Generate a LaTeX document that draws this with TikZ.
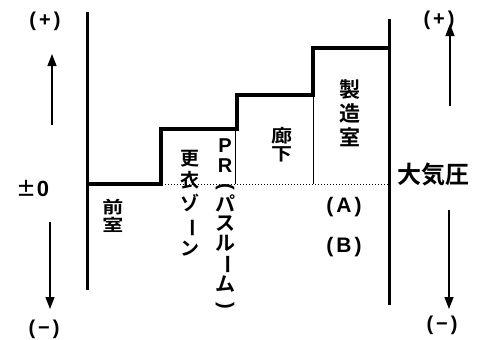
\documentclass[tikz,border=0pt]{standalone}
\usepackage{fontspec}
\usepackage{graphicx}
\setmainfont{Noto Sans CJK JP Bold}
\newfontfamily\latin{Liberation Sans}
\usetikzlibrary{arrows.meta}
\newcommand\vbar{\rotatebox[origin=c]{-90}{ー}}
\newcommand\vlp{\rotatebox[origin=c]{-90}{\latin\bfseries(}}
\newcommand\vrp{\rotatebox[origin=c]{-90}{\latin\bfseries)}}
\newcommand\gapx{\hspace{3pt}}
\tikzset{
  wall/.style={line width=3pt},
  stair/.style={line width=3.6pt, line join=miter},
  thin/.style={line width=0.8pt},
  base/.style={line width=1pt, dotted},
  lbl/.style={inner sep=0pt, align=center},
  lat/.style={font=\latin\bfseries\fontsize{21}{23}\selectfont, inner sep=0pt},
  pm/.style={font=\latin\bfseries\fontsize{20}{22}\selectfont, inner sep=0pt},
  arr/.style={line width=1.3pt, -{Triangle[length=12pt,width=9pt]}}
}
\begin{document}
\begin{tikzpicture}[x=1pt,y=-1pt]
\useasboundingbox (0,0) rectangle (483,340);
% walls
\coordinate (lwt) at (87,12);
\coordinate (lwb) at (87,290);
\coordinate (rwt) at (389,19);
\coordinate (rwb) at (389,305);
\draw[wall] (lwt) -- (lwb);
\draw[wall] (rwt) -- (rwb);
% baseline
\coordinate (b0) at (87,184);
\coordinate (b1) at (161,184);
\coordinate (b2) at (235,184);
\coordinate (b3) at (313,184);
\coordinate (b4) at (389,184);
\draw[base] (b0) -- (b4);
% step profile
\coordinate (s1) at (161,129);
\coordinate (s2) at (237,129);
\coordinate (s3) at (237,95);
\coordinate (s4) at (313,95);
\coordinate (s5) at (313,48);
\coordinate (s6) at (389,48);
\draw[stair] (b0) -- (b1) -- (s1) -- (s2) -- (s3) -- (s4) -- (s5) -- (s6);
% thin dividers
\coordinate (t2) at (235,129);
\draw[thin] (t2) -- (b2);
\draw[thin] (s4) -- (b3);
% labels
\node[lbl, yscale=0.8, font=\fontsize{21}{22.5}\selectfont] (zen) at (113,216) {前\\室};
\node[lbl, font=\fontsize{19}{22.5}\selectfont] (kou) at (190,203) {更\\衣\\ゾ\\\vbar\\ン};
\node[lbl, font=\fontsize{20}{19.5}\selectfont] (pr) at (225,225) {\latin\bfseries P\\\latin\bfseries R\\\vlp\\パ\\ス\\ル\\\vbar\\ム\\\vrp};
\node[lbl, yscale=0.85, font=\fontsize{21}{21.5}\selectfont] (rou) at (282,145) {廊\\下};
\node[lbl, font=\fontsize{21}{24}\selectfont] (sei) at (350,113) {製\\造\\室};
\node[lat] (A) at (344,207) {(\gapx A\gapx)};
\node[lat] (B) at (344,247) {(\gapx B\gapx)};
\node[lbl, font=\fontsize{24}{26}\selectfont] (atm) at (433,175) {大気圧};
\node[lbl, font=\fontsize{20}{22}\selectfont] (zero) at (33,188) {±{\latin\bfseries\fontsize{22}{24}\selectfont 0}};
\node[pm] (lp) at (45,21) {(\gapx+\gapx)};
\node[pm] (lm) at (44,329) {(\gapx−\gapx)};
\node[pm] (rp) at (439,20) {(\gapx+\gapx)};
\node[pm] (rm) at (442,325) {(\gapx−\gapx)};
% arrows
\coordinate (la1) at (52,125);
\coordinate (la2) at (52,54);
\coordinate (la3) at (50,222);
\coordinate (la4) at (50,309);
\coordinate (ra1) at (450,106);
\coordinate (ra2) at (450,24);
\coordinate (ra3) at (449,210);
\coordinate (ra4) at (449,309);
\draw[arr] (la1) -- (la2);
\draw[arr] (la3) -- (la4);
\draw[arr] (ra1) -- (ra2);
\draw[arr] (ra3) -- (ra4);
\end{tikzpicture}
\end{document}
